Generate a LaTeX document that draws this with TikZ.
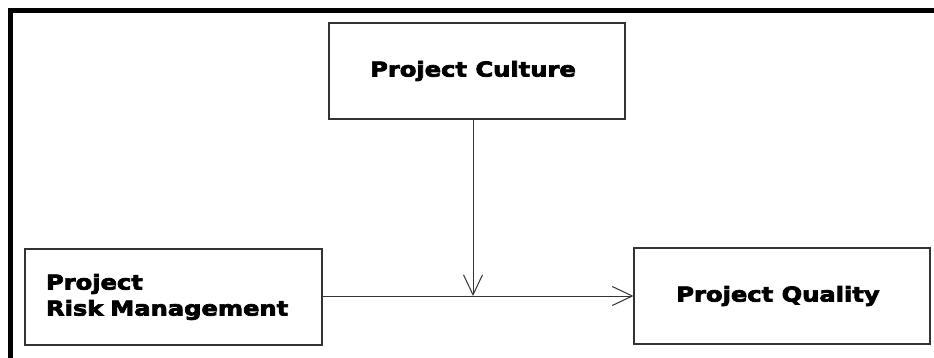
\documentclass[tikz,border=0pt]{standalone}
\usepackage{fontspec}
\setmainfont{DejaVu Sans}[BoldFeatures={FakeStretch=1.18,FakeBold=3.5}]
\usetikzlibrary{arrows.meta}
\definecolor{boxline}{HTML}{333333}
\tikzset{
  blk/.style={draw=boxline, line width=1.1pt, fill=white, inner sep=0pt,
    font=\fontsize{20.5}{26}\selectfont\bfseries},
  conn/.style={draw=boxline, line width=1pt},
  tipv/.style={-{Straight Barb[length=20pt,width=19pt,line width=1pt]}}
}
\begin{document}
\begin{tikzpicture}[x=1pt,y=-1pt]
\useasboundingbox (0,0) rectangle (934,358);
\fill[white] (0,0) rectangle (934,358);
\begin{scope}
\clip (0,0) rectangle (934,358);
\draw[line width=5.2pt, black] (10.7,10.7) rectangle (990,420);
\end{scope}
\node[blk, minimum width=296pt, minimum height=96pt] (culture) at (477,71) {Project Culture\hspace*{8pt}};
\node[blk, minimum width=297pt, minimum height=96pt, text width=255pt, align=left, inner xsep=21pt] (risk) at (173.5,297) {Project\\Risk Management};
\node[blk, minimum width=296pt, minimum height=96pt] (quality) at (782,296) {Project Quality\hspace*{8pt}};
\coordinate (join) at (473,0 |- quality.west);
\draw[conn, tipv] (risk.east |- quality.west) -- (quality.west);
\draw[conn, tipv] (culture.south -| join) -- (join);
\end{tikzpicture}
\end{document}
